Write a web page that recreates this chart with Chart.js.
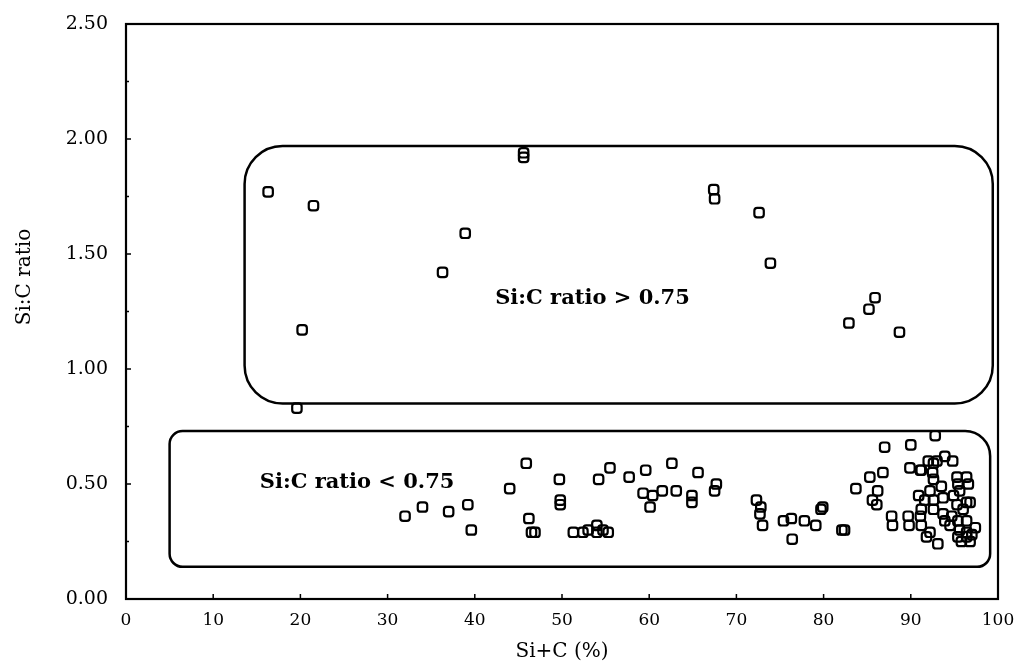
<!DOCTYPE html>
<html>
<head>
<meta charset="utf-8">
<script src="https://cdn.jsdelivr.net/npm/chart.js@4.4.1/dist/chart.umd.min.js"></script>
<style>
  html, body { margin: 0; padding: 0; background: #fff; }
  #wrap { width: 1019px; height: 664px; }
</style>
</head>
<body>
<div id="wrap"><canvas id="scatter"></canvas></div>
<script>
// Si+C content (%) and the matching Si:C ratio for each sample
const siPlusC = [
  16.3, 21.5, 20.2, 19.6, 38.9, 36.3, 45.6, 45.6, 67.4, 67.5, 72.6, 73.9,
  85.9, 85.2, 82.9, 88.7,
  32.0, 34.0, 37.0, 39.2, 39.6, 44.0, 45.9, 46.2, 46.5, 46.9, 49.7, 49.8,
  49.8, 51.3, 52.4, 53.0, 54.0, 54.0, 54.7, 55.3, 54.2, 55.5, 57.7, 59.6,
  59.3, 60.4, 60.1, 61.5, 62.6, 63.1, 65.6, 64.9, 64.9, 67.7, 67.5, 72.3,
  72.8, 72.7, 73.0, 75.4, 76.3, 76.4, 77.8, 79.1, 79.7, 79.9, 82.1, 82.4,
  83.7, 85.3, 86.8, 86.2, 85.6, 86.1, 87.0, 90.0, 92.8, 87.8, 87.9, 89.7,
  89.8, 91.1, 91.2, 89.9, 91.1, 92.0, 92.6, 93.0, 93.9, 94.8, 91.2, 92.5,
  92.6, 95.3, 96.4, 95.4, 96.6, 95.6, 92.2, 93.5, 93.7, 94.9, 90.9, 91.6,
  92.6, 95.3, 96.4, 96.8, 96.0, 91.2, 92.6, 93.7, 94.7, 93.9, 94.5, 95.4,
  96.4, 97.4, 95.6, 96.4, 95.4, 96.4, 97.0, 91.8, 93.1, 92.2, 95.8, 96.8
];
const siCRatio = [
  1.77, 1.71, 1.17, 0.83, 1.59, 1.42, 1.94, 1.92, 1.78, 1.74, 1.68, 1.46,
  1.31, 1.26, 1.20, 1.16,
  0.36, 0.40, 0.38, 0.41, 0.30, 0.48, 0.59, 0.35, 0.29, 0.29, 0.52, 0.43,
  0.41, 0.29, 0.29, 0.30, 0.32, 0.29, 0.30, 0.29, 0.52, 0.57, 0.53, 0.56,
  0.46, 0.45, 0.40, 0.47, 0.59, 0.47, 0.55, 0.45, 0.42, 0.50, 0.47, 0.43,
  0.40, 0.37, 0.32, 0.34, 0.35, 0.26, 0.34, 0.32, 0.39, 0.40, 0.30, 0.30,
  0.48, 0.53, 0.55, 0.47, 0.43, 0.41, 0.66, 0.67, 0.71, 0.36, 0.32, 0.36,
  0.32, 0.36, 0.32, 0.57, 0.56, 0.60, 0.59, 0.60, 0.62, 0.60, 0.56, 0.55,
  0.52, 0.53, 0.53, 0.50, 0.50, 0.47, 0.47, 0.49, 0.44, 0.45, 0.45, 0.43,
  0.43, 0.41, 0.42, 0.42, 0.39, 0.39, 0.39, 0.37, 0.36, 0.34, 0.32, 0.34,
  0.34, 0.31, 0.30, 0.29, 0.27, 0.27, 0.28, 0.27, 0.24, 0.29, 0.25, 0.25
];

const xTitle = 'Si+C (%)';
const yTitle = 'Si:C ratio';

// grouping boxes, in axis units: x1, x2, y1 (bottom), y2 (top)
const groups = [
  { x1: 13.6, x2: 99.4, y1: 0.85, y2: 1.97, radius: [38, 38, 38, 38],
    label: 'Si:C ratio > 0.75', lx: 53.5, ly: 1.305 },
  { x1: 5.0, x2: 99.1, y1: 0.14, y2: 0.73, radius: [13, 25, 13, 13],
    label: 'Si:C ratio < 0.75', lx: 26.5, ly: 0.505 }
];

const points = siPlusC.map((x, i) => ({ x: x, y: siCRatio[i] }));

const serif = '"DejaVu Serif", "Liberation Serif", serif';

// frame, inward ticks, group boxes and y title
const decor = {
  id: 'decor',
  beforeDatasetsDraw(chart) {
    const { ctx, chartArea: a, scales: { x, y } } = chart;
    ctx.save();
    ctx.strokeStyle = '#000';

    // grouping boxes
    ctx.lineWidth = 2.5;
    groups.forEach(g => {
      const l = x.getPixelForValue(g.x1), r = x.getPixelForValue(g.x2);
      const t = y.getPixelForValue(g.y2), b = y.getPixelForValue(g.y1);
      ctx.beginPath();
      ctx.roundRect(l, t, r - l, b - t, g.radius);
      ctx.stroke();
      ctx.fillStyle = '#000';
      ctx.font = 'bold 21px ' + serif;
      ctx.textAlign = 'center';
      ctx.textBaseline = 'middle';
      ctx.fillText(g.label, x.getPixelForValue(g.lx), y.getPixelForValue(g.ly));
    });

    // plot frame
    ctx.lineWidth = 2.2;
    ctx.strokeRect(a.left, a.top, a.right - a.left, a.bottom - a.top);

    // ticks pointing into the plot
    ctx.lineWidth = 1.5;
    ctx.beginPath();
    for (let v = 10; v < 100; v += 10) {
      const px = x.getPixelForValue(v);
      ctx.moveTo(px, a.bottom);
      ctx.lineTo(px, a.bottom - 5);
    }
    for (let v = 0.25; v < 2.5; v += 0.25) {
      const py = y.getPixelForValue(v);
      const len = Math.abs(v * 2 - Math.round(v * 2)) < 0.01 ? 5 : 3;
      ctx.moveTo(a.left, py);
      ctx.lineTo(a.left + len, py);
    }
    ctx.stroke();

    // y axis title
    ctx.fillStyle = '#000';
    ctx.font = '20px ' + serif;
    ctx.textAlign = 'center';
    ctx.textBaseline = 'middle';
    ctx.translate(25, 277);
    ctx.rotate(-Math.PI / 2);
    ctx.fillText(yTitle, 0, 0);
    ctx.restore();
  }
};

new Chart(document.getElementById('scatter'), {
  type: 'scatter',
  data: {
    datasets: [{
      data: points,
      pointStyle: 'rectRounded',
      pointRadius: 5.5,
      pointHoverRadius: 5.5,
      borderWidth: 2.2,
      borderColor: '#000',
      backgroundColor: 'rgba(0,0,0,0)'
    }]
  },
  options: {
    responsive: true,
    maintainAspectRatio: false,
    animation: false,
    layout: { padding: { top: 24, right: 21, left: 0, bottom: 0 } },
    plugins: {
      legend: { display: false },
      tooltip: { enabled: false }
    },
    scales: {
      x: {
        type: 'linear',
        min: 0,
        max: 100,
        afterFit(scale) {
          scale.height = 65;
          scale.paddingLeft = 0;
          scale.paddingRight = 0;
        },
        ticks: {
          stepSize: 10,
          padding: 11,
          color: '#000',
          maxRotation: 0,
          font: { family: serif, size: 17 }
        },
        grid: { display: false, drawTicks: false },
        border: { display: false },
        title: {
          display: true,
          text: xTitle,
          color: '#000',
          font: { family: serif, size: 20 },
          padding: { top: 0, bottom: 0 }
        }
      },
      y: {
        min: 0,
        max: 2.5,
        afterFit(scale) {
          scale.width = 126;
          scale.paddingTop = 0;
          scale.paddingBottom = 0;
        },
        ticks: {
          stepSize: 0.5,
          padding: 18,
          color: '#000',
          font: { family: serif, size: 19 },
          callback: v => Number(v).toFixed(2)
        },
        grid: { display: false, drawTicks: false },
        border: { display: false }
      }
    }
  },
  plugins: [decor]
});
</script>
</body>
</html>
